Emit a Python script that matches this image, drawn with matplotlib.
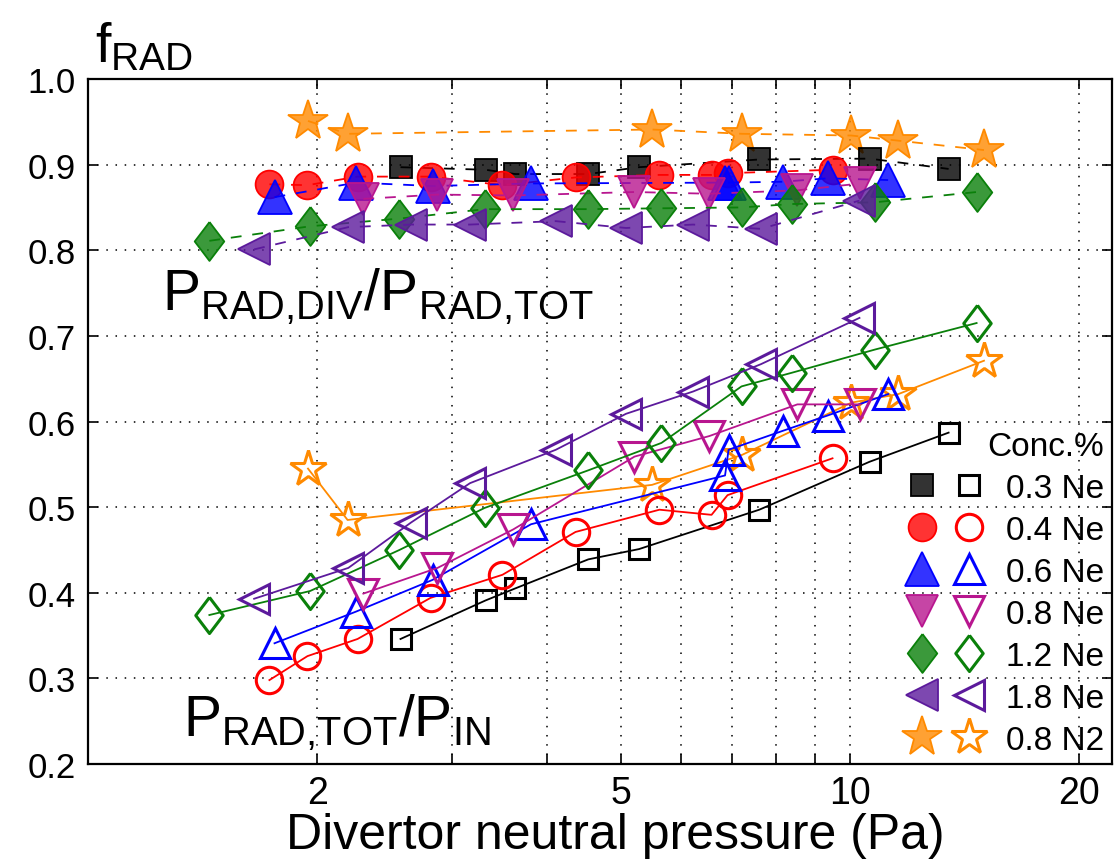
import matplotlib
matplotlib.use('Agg')
import matplotlib.pyplot as plt
from matplotlib.colors import to_rgba
from matplotlib.lines import Line2D
from matplotlib.legend_handler import HandlerTuple
from matplotlib.ticker import NullLocator

plt.rcParams['font.family'] = ['Liberation Sans', 'DejaVu Sans']
plt.rcParams['mathtext.fontset'] = 'custom'
plt.rcParams['mathtext.rm'] = 'Liberation Sans'
plt.rcParams['mathtext.it'] = 'Liberation Sans:italic'

# ---------------- data ----------------
labels = ['0.3 Ne', '0.4 Ne', '0.6 Ne', '0.8 Ne', '1.2 Ne', '1.8 Ne', '0.8 N2']

# divertor neutral pressure (Pa)
p_03ne = [2.571, 3.324, 3.635, 4.535, 5.286, 7.603, 10.61, 13.47]
p_04ne = [1.730, 1.941, 2.258, 2.815, 3.499, 4.363, 5.623, 6.581, 6.907, 9.485]
p_06ne = [1.757, 2.248, 2.832, 3.814, 6.855, 6.928, 8.155, 9.344, 11.22]
p_08ne = [2.298, 2.875, 3.615, 5.214, 6.537, 8.529, 10.32]
p_12ne = [1.443, 1.956, 2.563, 3.314, 4.535, 5.657, 7.205, 8.393, 10.78, 14.66]
p_18ne = [1.652, 2.196, 2.654, 3.172, 4.111, 5.082, 6.223, 7.642, 10.29]
p_08n2 = [1.944, 2.191, 5.498, 7.216, 10.04, 11.57, 14.99]

# P_RAD,DIV / P_RAD,TOT
div_03ne = [0.897, 0.894, 0.889, 0.889, 0.897, 0.906, 0.907, 0.895]
div_04ne = [0.877, 0.876, 0.886, 0.886, 0.876, 0.885, 0.888, 0.888, 0.890, 0.894]
div_06ne = [0.862, 0.879, 0.875, 0.878, 0.879, 0.879, 0.880, 0.884, 0.882]
div_08ne = [0.860, 0.865, 0.864, 0.868, 0.866, 0.870, 0.878]
div_12ne = [0.811, 0.828, 0.837, 0.848, 0.848, 0.849, 0.850, 0.854, 0.856, 0.868]
div_18ne = [0.801, 0.827, 0.830, 0.830, 0.834, 0.826, 0.830, 0.825, 0.858]
div_08n2 = [0.951, 0.936, 0.941, 0.936, 0.934, 0.928, 0.917]

# P_RAD,TOT / P_IN
tot_03ne = [0.346, 0.391, 0.405, 0.439, 0.451, 0.497, 0.553, 0.587]
tot_04ne = [0.298, 0.326, 0.346, 0.394, 0.421, 0.471, 0.497, 0.491, 0.514, 0.557]
tot_06ne = [0.341, 0.378, 0.415, 0.480, 0.537, 0.567, 0.589, 0.607, 0.632]
tot_08ne = [0.399, 0.429, 0.474, 0.559, 0.583, 0.620, 0.620]
tot_12ne = [0.374, 0.402, 0.450, 0.499, 0.543, 0.575, 0.641, 0.657, 0.684, 0.715]
tot_18ne = [0.393, 0.429, 0.482, 0.528, 0.567, 0.609, 0.635, 0.667, 0.721]
tot_08n2 = [0.545, 0.485, 0.526, 0.561, 0.622, 0.632, 0.671]

pressures = [p_03ne, p_04ne, p_06ne, p_08ne, p_12ne, p_18ne, p_08n2]
div_frac = [div_03ne, div_04ne, div_06ne, div_08ne, div_12ne, div_18ne, div_08n2]
tot_frac = [tot_03ne, tot_04ne, tot_06ne, tot_08ne, tot_12ne, tot_18ne, tot_08n2]

# ---------------- styles ----------------
diamond = [(0, 1), (0.76, 0), (0, -1), (-0.76, 0), (0, 1)]
colors = ['#000000', '#ff0000', '#0000ff', '#b8168f', '#0a800a', '#5c1a9c', '#ff8a00']
markers = ['s', 'o', '^', 'v', diamond, '<', '*']
ms_filled = [16, 20, 25, 23, 28, 23, 30]
ms_open = [14.5, 19, 22, 22, 26, 22, 27]
draw_order = [6, 0, 1, 2, 3, 4, 5]

fig = plt.figure(figsize=(11.14, 8.62), dpi=100)
ax = fig.add_axes([88 / 1114, 1 - 765 / 862, 1024 / 1114, 685 / 862])
ax.set_xscale('log')

for i in draw_order:
    c = colors[i]
    # upper group: filled markers, dashed lines
    ax.plot(pressures[i], div_frac[i], color=c, lw=1.3, ls=(0, (6, 6)),
            marker=markers[i], ms=ms_filled[i], mfc=to_rgba(c, 0.8),
            mec=c, mew=1.3, zorder=3)
    # lower group: open markers, solid lines
    ax.plot(pressures[i], tot_frac[i], color=c, lw=1.3, ls='-',
            marker=markers[i], ms=ms_open[i], mfc='none',
            mec=c, mew=2.2, zorder=3)

ax.set_xlim(1, 22.07)
ax.set_ylim(0.2, 1.0)
xt = [2, 3, 4, 5, 6, 7, 8, 9, 10, 20]
ax.set_xticks(xt)
ax.set_xticklabels(['2', '', '', '5', '', '', '', '', '10', '20'])
ax.xaxis.set_minor_locator(NullLocator())
yt = [0.2, 0.3, 0.4, 0.5, 0.6, 0.7, 0.8, 0.9, 1.0]
ax.set_yticks(yt)
ax.set_yticklabels(['%.1f' % v for v in yt])
ax.tick_params(axis='both', which='both', direction='in', length=7, width=1.2,
               top=True, right=True)
ax.tick_params(axis='x', labelsize=27, pad=8)
ax.tick_params(axis='y', labelsize=25, pad=9)
for s in ax.spines.values():
    s.set_linewidth(1.6)

ax.grid(True, linestyle=(0, (1, 5)), color='k', lw=1.1)
ax.set_axisbelow(True)

ax.set_xlabel('Divertor neutral pressure (Pa)', fontsize=36)
ax.xaxis.set_label_coords(0.515, -0.07)

fig.text(95 / 1114, 1 - 62 / 862, r'$\mathrm{f}_{\mathrm{RAD}}$', fontsize=40,
         va='baseline', ha='left')

ax.text(1.251, 0.731, r'$\mathrm{P}_{\mathrm{RAD{,}DIV}}/\mathrm{P}_{\mathrm{RAD{,}TOT}}$',
        fontsize=41, ha='left', va='baseline')
ax.text(1.332, 0.234, r'$\mathrm{P}_{\mathrm{RAD{,}TOT}}/\mathrm{P}_{\mathrm{IN}}$',
        fontsize=41, ha='left', va='baseline')

# legend: filled / open marker pairs
handles = []
for i in range(len(labels)):
    c = colors[i]
    hf = Line2D([], [], ls='none', marker=markers[i], ms=ms_filled[i],
                mfc=to_rgba(c, 0.8), mec=c, mew=1.3)
    ho = Line2D([], [], ls='none', marker=markers[i], ms=ms_open[i],
                mfc='none', mec=c, mew=2.2)
    handles.append((hf, ho))
leg = ax.legend(handles, labels, handler_map={tuple: HandlerTuple(ndivide=None, pad=0)},
                loc='lower right', bbox_to_anchor=(1.0, 0.0), frameon=False,
                fontsize=24, title='Conc.%', title_fontsize=24, alignment='right',
                handlelength=2.8, handletextpad=0.4, labelspacing=0.33,
                borderpad=0.25, borderaxespad=0.0)

fig.savefig('out.png', dpi=100)
